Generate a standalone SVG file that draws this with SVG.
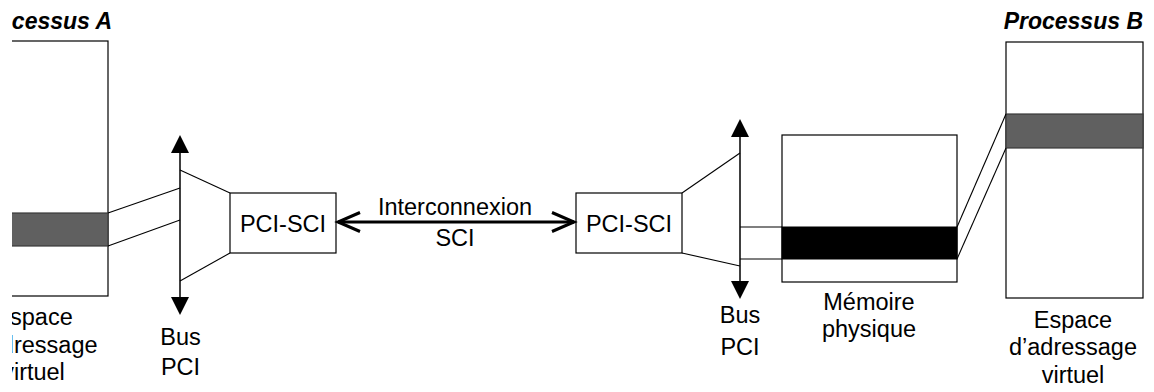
<svg xmlns="http://www.w3.org/2000/svg" width="1154" height="392" viewBox="0 0 1154 392">
  <style>
    .box { fill: #ffffff; stroke: #000000; stroke-width: 1.2; }
    .band { fill: #606060; stroke: #3a3a3a; stroke-width: 1.2; }
    .mem { fill: #000000; stroke: #000000; stroke-width: 1; }
    .thin { fill: none; stroke: #000000; stroke-width: 1.1; }
    .bus { fill: none; stroke: #000000; stroke-width: 1.5; }
    .head { fill: #000000; stroke: none; }
    .link { fill: none; stroke: #000000; stroke-width: 3; }
    .lbl { font-family: "Liberation Sans", Arial, sans-serif; font-size: 23.5px; fill: #000000; text-anchor: middle; }
    .title { font-family: "Liberation Sans", Arial, sans-serif; font-size: 23px; font-weight: bold; font-style: italic; fill: #000000; text-anchor: end; }
  </style>
  <defs>
    <clipPath id="page">
      <rect x="12" y="0" width="1142" height="392"/>
    </clipPath>
  </defs>
  <rect x="0" y="0" width="1154" height="392" fill="#ffffff"/>

  <g clip-path="url(#page)">
    <!-- virtual address space of process A -->
    <g id="processus-a">
      <text class="title" x="112" y="29">Processus A</text>
      <rect class="box" x="-38" y="41" width="146" height="255"/>
      <rect class="band" x="-38" y="213" width="146" height="33"/>
      <text class="lbl" x="33.5" y="325">Espace</text>
      <text class="lbl" x="33.5" y="353">d’adressage</text>
      <text class="lbl" x="33.5" y="380">virtuel</text>
    </g>

    <!-- PCI bus, side A -->
    <g id="bus-pci-a">
      <line class="bus" x1="180" y1="150" x2="180" y2="300"/>
      <polygon class="head" points="180,135 189,153 171,153"/>
      <polygon class="head" points="180,315 189,297 171,297"/>
      <text class="lbl" x="180.5" y="345">Bus</text>
      <text class="lbl" x="180.5" y="375">PCI</text>
    </g>

    <!-- PCI-SCI adapter, side A -->
    <g id="pci-sci-a">
      <rect class="box" x="230" y="193" width="106" height="60"/>
      <text class="lbl" x="283" y="232">PCI-SCI</text>
    </g>

    <!-- PCI-SCI adapter, side B -->
    <g id="pci-sci-b">
      <rect class="box" x="576" y="193" width="106" height="60"/>
      <text class="lbl" x="629" y="232">PCI-SCI</text>
    </g>

    <!-- PCI bus, side B -->
    <g id="bus-pci-b">
      <line class="bus" x1="740" y1="134" x2="740" y2="284"/>
      <polygon class="head" points="740,119 749,137 731,137"/>
      <polygon class="head" points="740,299 749,281 731,281"/>
      <text class="lbl" x="740" y="323">Bus</text>
      <text class="lbl" x="740" y="355">PCI</text>
    </g>

    <!-- physical memory -->
    <g id="memoire-physique">
      <rect class="box" x="782" y="135" width="175" height="147"/>
      <rect class="mem" x="782" y="227" width="175" height="32"/>
      <text class="lbl" x="869" y="310">Mémoire</text>
      <text class="lbl" x="869" y="337">physique</text>
    </g>

    <!-- virtual address space of process B -->
    <g id="processus-b">
      <text class="title" x="1143" y="29">Processus B</text>
      <rect class="box" x="1006" y="42" width="137" height="256"/>
      <rect class="band" x="1006" y="114" width="137" height="34"/>
      <text class="lbl" x="1073" y="328">Espace</text>
      <text class="lbl" x="1073" y="355">d’adressage</text>
      <text class="lbl" x="1073" y="383">virtuel</text>
    </g>

    <!-- connectors -->
    <g id="connectors">
      <!-- mapping of process A segment onto bus A -->
      <line class="thin" x1="108" y1="213" x2="180" y2="188"/>
      <line class="thin" x1="108" y1="246" x2="180" y2="220"/>
      <!-- bus A fan-in to adapter A -->
      <line class="thin" x1="180" y1="170" x2="230" y2="193"/>
      <line class="thin" x1="180" y1="281" x2="230" y2="253"/>
      <!-- SCI interconnect -->
      <line class="link" x1="338" y1="222" x2="574" y2="222"/>
      <polyline class="link" points="360,212.5 338,222 360,231.5"/>
      <polyline class="link" points="552,212.5 574,222 552,231.5"/>
      <text class="lbl" x="455" y="215">Interconnexion</text>
      <text class="lbl" x="455" y="246">SCI</text>
      <!-- adapter B fan-out to bus B -->
      <line class="thin" x1="682" y1="193" x2="740" y2="153"/>
      <line class="thin" x1="682" y1="253" x2="740" y2="266"/>
      <!-- bus B to physical memory segment -->
      <line class="thin" x1="740" y1="227" x2="782" y2="227"/>
      <line class="thin" x1="740" y1="259" x2="782" y2="259"/>
      <!-- physical memory segment to process B -->
      <line class="thin" x1="957" y1="227" x2="1006" y2="114"/>
      <line class="thin" x1="957" y1="259" x2="1006" y2="148"/>
    </g>
  </g>
</svg>
